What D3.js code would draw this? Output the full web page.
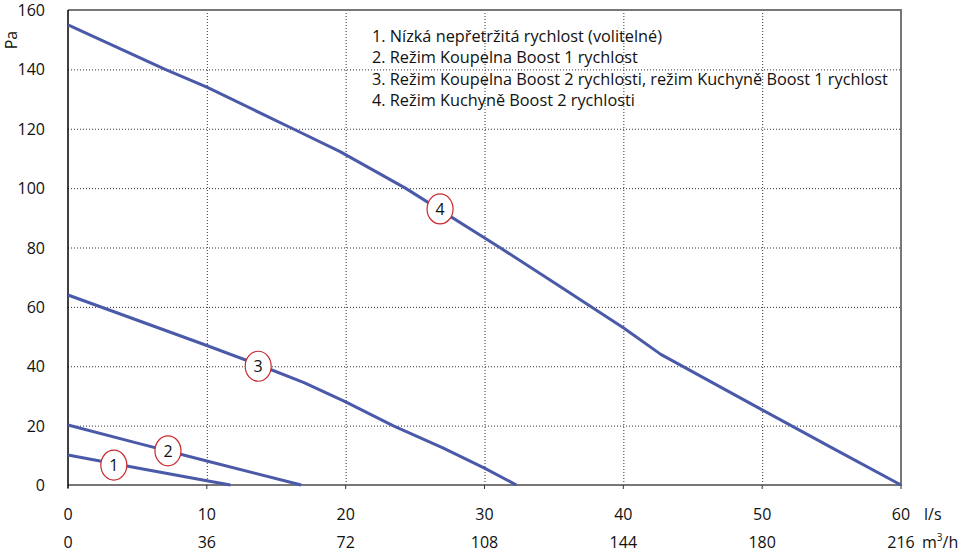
<!DOCTYPE html>
<html lang="cs">
<head>
<meta charset="UTF-8">
<title>Pa / l/s</title>
<script src="https://d3js.org/d3.v7.min.js"></script>
<style>
  body { margin: 0; background: #fff; }
  svg text { font-family: "Open Sans", "Noto Sans", sans-serif; fill: #111; }
</style>
</head>
<body>
<svg></svg>
<script>
// data (x in l/s, y in Pa)
const curve1 = [[0, 10.1], [2.3, 8.1], [5, 5.7], [10, 1.4], [11.7, 0]];
const curve2 = [[0, 20.2], [5, 14.1], [10, 8.1], [16.8, 0]];
const curve3 = [[0, 64], [10, 47], [14, 40], [17, 34.5], [20, 28], [23.4, 20], [27, 12.5], [30, 5.7], [32.3, 0]];
const curve4 = [[0, 155], [7, 140], [10, 134], [16.2, 120], [19.6, 112.3], [24.3, 100], [31.1, 80], [35, 68.2], [40, 53], [42.7, 44], [50, 25.3], [55, 12.6], [60, 0]];
const curveLabels = ["1", "2", "3", "4"];
const labelPos = [[3.3, 6.7], [7.2, 11.5], [13.7, 40], [26.8, 93]];
const legendItems = [
  "1. Nízká nepřetržitá rychlost (volitelné)",
  "2. Režim Koupelna Boost 1 rychlost",
  "3. Režim Koupelna Boost 2 rychlosti, režim Kuchyně Boost 1 rychlost",
  "4. Režim Kuchyně Boost 2 rychlosti"
];
const xTicks = [0, 10, 20, 30, 40, 50, 60];
const m3hTicks = ["0", "36", "72", "108", "144", "180", "216"];
const yTicks = [0, 20, 40, 60, 80, 100, 120, 140, 160];

const width = 962, height = 554;
const plotL = 68, plotR = 901, plotT = 10, plotB = 485;

const svg = d3.select("svg").attr("width", width).attr("height", height);

const x = d3.scaleLinear().domain([0, 60]).range([plotL, plotR]);
const y = d3.scaleLinear().domain([0, 160]).range([plotB, plotT]);

// grid
svg.append("g")
  .selectAll("line")
  .data(yTicks.slice(1, -1))
  .join("line")
  .attr("x1", plotL).attr("x2", plotR)
  .attr("y1", d => y(d) + 0.5).attr("y2", d => y(d) + 0.5)
  .attr("stroke", "#333").attr("stroke-dasharray", "1,2");

svg.append("g")
  .selectAll("line")
  .data(xTicks.slice(1, -1))
  .join("line")
  .attr("x1", d => x(d) + 0.5).attr("x2", d => x(d) + 0.5)
  .attr("y1", plotT).attr("y2", plotB)
  .attr("stroke", "#333").attr("stroke-dasharray", "1,2");

// frame
svg.append("path")
  .attr("d", `M${plotL},${plotT}H${plotR}V${plotB}H${plotL}`)
  .attr("fill", "none").attr("stroke", "#777").attr("stroke-width", 2);
svg.append("line")
  .attr("x1", plotL).attr("x2", plotL).attr("y1", plotT).attr("y2", plotB + 3)
  .attr("stroke", "#000").attr("stroke-width", 1.5);

// small ticks under the x axis
svg.append("g")
  .selectAll("line")
  .data(xTicks)
  .join("line")
  .attr("x1", d => x(d)).attr("x2", d => x(d))
  .attr("y1", plotB).attr("y2", plotB + 4)
  .attr("stroke", "#333");

// y labels
svg.append("g")
  .selectAll("text")
  .data(yTicks)
  .join("text")
  .attr("x", 45).attr("y", d => y(d) + 6)
  .attr("text-anchor", "end")
  .attr("font-size", 16)
  .text(d => d);

svg.append("text")
  .attr("transform", "translate(17,40) rotate(-90)")
  .attr("text-anchor", "middle")
  .attr("font-size", 16)
  .text("Pa");

// x labels, two rows
svg.append("g")
  .selectAll("text")
  .data(xTicks)
  .join("text")
  .attr("x", d => x(d)).attr("y", 520)
  .attr("text-anchor", "middle")
  .attr("font-size", 16)
  .text(d => d);

svg.append("g")
  .selectAll("text")
  .data(m3hTicks)
  .join("text")
  .attr("x", (d, i) => x(xTicks[i])).attr("y", 548)
  .attr("text-anchor", "middle")
  .attr("font-size", 16)
  .text(d => d);

svg.append("text").attr("x", 924).attr("y", 520).attr("font-size", 16).text("l/s");
const m3 = svg.append("text").attr("x", 922).attr("y", 548).attr("font-size", 16);
m3.append("tspan").text("m");
m3.append("tspan").attr("font-size", 10).attr("dy", -7).text("3");
m3.append("tspan").attr("dy", 7).text("/h");

// curves
const line = d3.line().x(d => x(d[0])).y(d => y(d[1]));
svg.append("g")
  .selectAll("path")
  .data([curve1, curve2, curve3, curve4])
  .join("path")
  .attr("d", line)
  .attr("fill", "none")
  .attr("stroke", "#4a5aa8")
  .attr("stroke-width", 3)
  .attr("stroke-linejoin", "round");

// numbered markers
const marks = svg.append("g")
  .selectAll("g")
  .data(curveLabels)
  .join("g")
  .attr("transform", (d, i) => `translate(${x(labelPos[i][0])},${y(labelPos[i][1])})`);
marks.append("ellipse")
  .attr("rx", 13).attr("ry", 15)
  .attr("fill", "#fff").attr("stroke", "#c8282d").attr("stroke-width", 1.2);
marks.append("text")
  .attr("y", 6)
  .attr("text-anchor", "middle")
  .attr("font-size", 16)
  .text(d => d);

// legend
svg.append("g")
  .selectAll("text")
  .data(legendItems)
  .join("text")
  .attr("x", 372).attr("y", (d, i) => 42 + i * 21.3)
  .attr("font-size", 16.3)
  .text(d => d);
</script>
</body>
</html>
